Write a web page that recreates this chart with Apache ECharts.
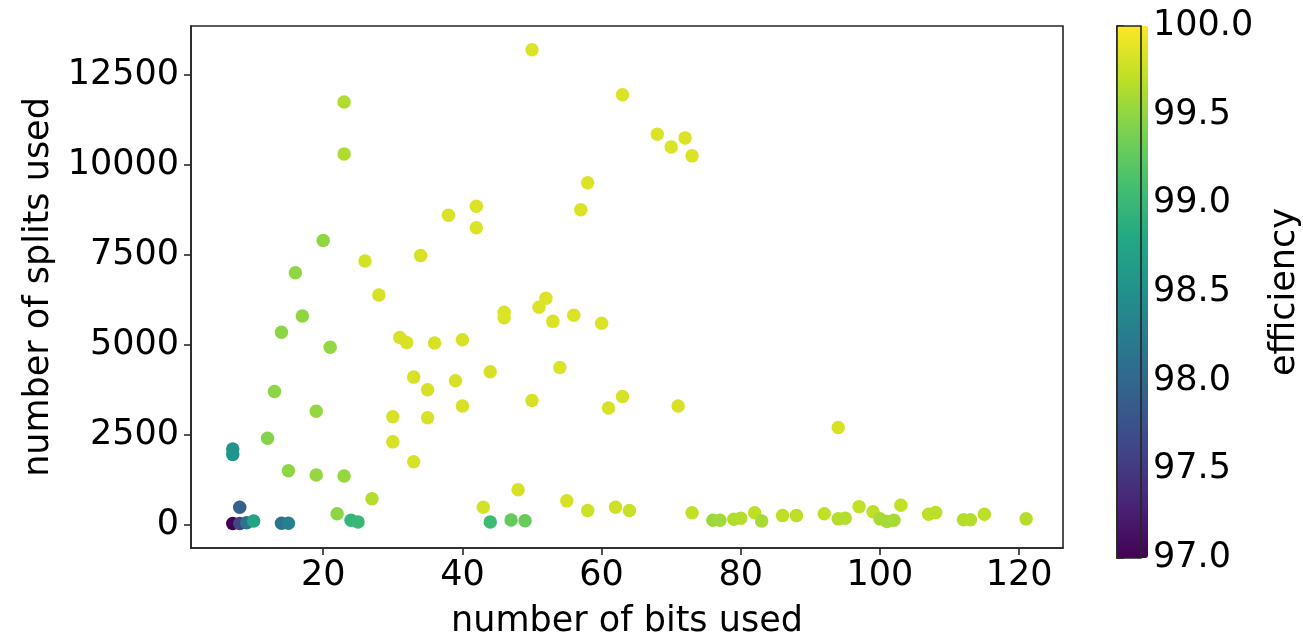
<!DOCTYPE html>
<html>
<head>
<meta charset="utf-8">
<script src="https://cdn.jsdelivr.net/npm/echarts@6/dist/echarts.min.js"></script>
<style>
html,body{margin:0;padding:0;background:#fff;}
#chart{width:1303px;height:644px;}
</style>
</head>
<body>
<div id="chart"></div>
<script>
// number of bits used
const bits = [
  50, 23, 63, 68, 70, 72, 73, 23, 58, 57, 38, 42, 42, 20, 34, 26, 16, 28,
  52, 51, 46, 46, 17, 56, 53, 60, 14, 31, 32, 36, 40, 21, 54, 44, 33, 39,
  13, 35, 63, 50, 40, 61, 71, 19, 30, 35, 94, 12, 30, 33, 15, 19, 23, 48,
  27, 55, 62, 64, 58, 43, 22, 24, 25, 44, 47, 49,
  7, 7, 8, 7, 8, 9, 10, 14, 15,
  73, 76, 77, 79, 80, 82, 83, 86, 88, 92, 94, 95, 97, 99, 100, 101, 102, 103,
  107, 108, 112, 113, 115, 121
];
// number of splits used
const splits = [
  13200, 11750, 11950, 10850, 10500, 10750, 10250, 10300, 9500, 8750, 8600, 8850, 8250, 7900, 7480, 7330, 7000, 6380,
  6290, 6040, 5900, 5750, 5800, 5820, 5650, 5600, 5350, 5200, 5060, 5050, 5140, 4930, 4370, 4250, 4100, 4000,
  3700, 3750, 3560, 3450, 3300, 3240, 3300, 3150, 3000, 2970, 2700, 2400, 2300, 1750, 1500, 1380, 1350, 970,
  720, 660, 480, 390, 390, 480, 300, 120, 70, 70, 130, 110,
  2100, 1950, 480, 30, 30, 50, 100, 40, 40,
  330, 120, 120, 150, 180, 330, 100, 250, 250, 300, 160, 180, 500, 360, 160, 90, 120, 540,
  290, 335, 135, 135, 290, 160
];
// efficiency (%)
const efficiency = [
  99.84, 99.64, 99.84, 99.84, 99.84, 99.84, 99.84, 99.64, 99.84, 99.84, 99.84, 99.84, 99.84, 99.5, 99.82, 99.8, 99.5, 99.82,
  99.84, 99.84, 99.84, 99.84, 99.5, 99.84, 99.84, 99.84, 99.48, 99.82, 99.82, 99.82, 99.82, 99.52, 99.84, 99.82, 99.82, 99.82,
  99.48, 99.82, 99.82, 99.82, 99.82, 99.82, 99.82, 99.52, 99.82, 99.82, 99.82, 99.45, 99.82, 99.82, 99.5, 99.52, 99.52, 99.82,
  99.66, 99.82, 99.78, 99.75, 99.78, 99.8, 99.48, 98.95, 99.0, 99.05, 99.28, 99.3,
  98.55, 98.55, 97.9, 97.0, 97.6, 98.15, 98.75, 98.15, 98.3,
  99.72, 99.55, 99.56, 99.64, 99.66, 99.7, 99.6, 99.7, 99.7, 99.72, 99.66, 99.66, 99.72, 99.7, 99.6, 99.6, 99.6, 99.72,
  99.7, 99.7, 99.66, 99.66, 99.7, 99.66
];
const xTicks = [20, 40, 60, 80, 100, 120];
const yTicks = [0, 2500, 5000, 7500, 10000, 12500];
const cbTicks = [97.0, 97.5, 98.0, 98.5, 99.0, 99.5, 100.0];

const viridis = ['#440154','#482475','#414487','#355f8d','#2a788e','#21918c','#22a884','#44bf70','#7ad151','#bddf26','#fde725'];

const FONT = 'DejaVu Sans';
const FS = 35;
const AX = '#262626';

const points = bits.map((b, i) => [b, splits[i], efficiency[i]]);

const chart = echarts.init(document.getElementById('chart'), null, {renderer: 'canvas'});
chart.setOption({
  animation: false,
  backgroundColor: '#fff',
  textStyle: {fontFamily: FONT},
  grid: [
    {left: 191, top: 26, width: 872, height: 532, show: true, borderColor: AX, borderWidth: 1.6, backgroundColor: 'transparent'},
    {left: 1117, top: 26, width: 31, height: 532, show: true, borderColor: AX, borderWidth: 1.6, backgroundColor: 'transparent', z: 10}
  ],
  xAxis: [
    {
      type: 'value', gridIndex: 0, min: 1.0, max: 126.3,
      name: 'number of bits used', nameLocation: 'middle', nameGap: 56,
      nameTextStyle: {fontFamily: FONT, fontSize: FS, color: '#000'},
      axisLine: {show: true, onZero: false, lineStyle: {color: AX, width: 1.6}},
      axisTick: {show: true, inside: false, length: 7, customValues: xTicks, lineStyle: {color: AX, width: 1.6}},
      axisLabel: {show: true, margin: 10, customValues: xTicks, formatter: v => String(v), fontFamily: FONT, fontSize: FS, color: '#000'},
      splitLine: {show: false}
    },
    {type: 'value', gridIndex: 1, min: 0, max: 1, show: false}
  ],
  yAxis: [
    {
      type: 'value', gridIndex: 0, min: -650, max: 13860,
      name: 'number of splits used', nameLocation: 'middle', nameGap: 132, nameRotate: 90,
      nameTextStyle: {fontFamily: FONT, fontSize: FS, color: '#000'},
      axisLine: {show: true, onZero: false, lineStyle: {color: AX, width: 1.6}},
      axisTick: {show: true, inside: false, length: 7, customValues: yTicks, lineStyle: {color: AX, width: 1.6}},
      axisLabel: {show: true, margin: 12, customValues: yTicks, formatter: v => String(v), fontFamily: FONT, fontSize: FS, color: '#000'},
      splitLine: {show: false}
    },
    {
      type: 'value', gridIndex: 1, min: 97, max: 100, position: 'right',
      name: 'efficiency', nameLocation: 'middle', nameGap: 126, nameRotate: 90,
      nameTextStyle: {fontFamily: FONT, fontSize: FS, color: '#000'},
      axisLine: {show: true, lineStyle: {color: AX, width: 1.6}},
      axisTick: {show: true, inside: false, length: 7, customValues: cbTicks, lineStyle: {color: AX, width: 1.6}},
      axisLabel: {show: true, margin: 12, customValues: cbTicks, formatter: v => Number(v).toFixed(1), fontFamily: FONT, fontSize: FS, color: '#000'},
      splitLine: {show: false}
    }
  ],
  visualMap: {
    type: 'continuous', min: 97, max: 100, dimension: 2, seriesIndex: 0,
    calculable: false, hoverLink: false,
    left: 1117, top: 26, itemWidth: 31, itemHeight: 532, padding: 0,
    orient: 'vertical',
    inRange: {color: viridis},
    textStyle: {color: 'transparent', fontSize: 1}
  },
  series: [
    {
      type: 'scatter', xAxisIndex: 0, yAxisIndex: 0,
      symbol: 'circle', symbolSize: 13.5,
      data: points,
      itemStyle: {opacity: 1}
    },
    {
      type: 'scatter', xAxisIndex: 1, yAxisIndex: 1, data: [], silent: true
    }
  ]
});
</script>
</body>
</html>
